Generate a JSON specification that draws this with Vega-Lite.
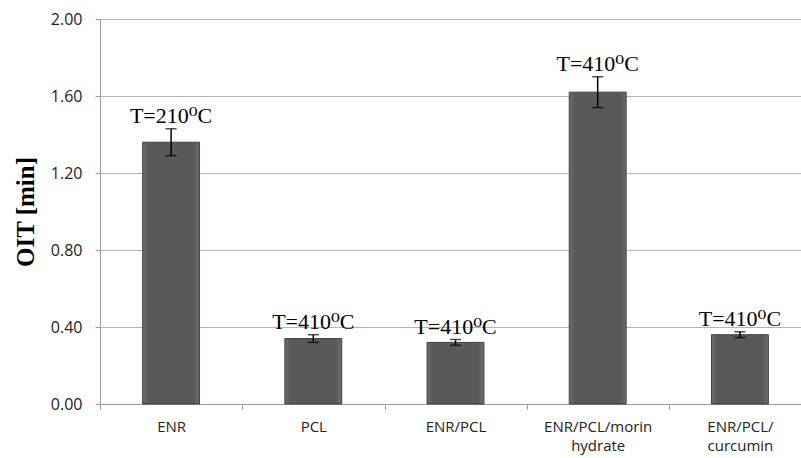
{
  "$schema": "https://vega.github.io/schema/vega-lite/v6.json",
  "width": 697,
  "height": 385,
  "autosize": {"type": "none"},
  "padding": {"left": 100, "top": 19, "right": 4, "bottom": 54},
  "background": "white",
  "config": {"view": {"stroke": null}},
  "data": {
    "values": [
      {"sample": "ENR", "oit": 1.36, "lo": 1.29, "hi": 1.43, "label": "T=210⁰C"},
      {"sample": "PCL", "oit": 0.34, "lo": 0.32, "hi": 0.36, "label": "T=410⁰C"},
      {"sample": "ENR/PCL", "oit": 0.32, "lo": 0.305, "hi": 0.335, "label": "T=410⁰C"},
      {"sample": "ENR/PCL/morin hydrate", "oit": 1.62, "lo": 1.54, "hi": 1.70, "label": "T=410⁰C"},
      {"sample": "ENR/PCL/curcumin", "oit": 0.36, "lo": 0.345, "hi": 0.375, "label": "T=410⁰C"}
    ]
  },
  "encoding": {
    "x": {
      "field": "sample",
      "type": "nominal",
      "sort": null,
      "scale": {"paddingInner": 0, "paddingOuter": 0, "range": [0, 711]},
      "axis": {
        "title": null,
        "labelAngle": 0,
        "labelFont": "Open Sans",
        "labelFontSize": 15,
        "labelColor": "#222222",
        "labelPadding": 10,
        "labelLineHeight": 19,
        "labelBaseline": "top",
        "labelAlign": "center",
        "tickOffset": -71,
        "labelOffset": 71,
        "tickSize": 5,
        "tickColor": "#999999",
        "domainColor": "#999999",
        "labelExpr": "datum.label == 'ENR/PCL/morin hydrate' ? ['ENR/PCL/morin', 'hydrate'] : datum.label == 'ENR/PCL/curcumin' ? ['ENR/PCL/', 'curcumin'] : datum.label"
      }
    }
  },
  "layer": [
    {
      "mark": {
        "type": "bar",
        "width": {"band": 0.4},
        "stroke": "#3f3f3f",
        "strokeWidth": 1,
        "fill": {
          "gradient": "linear",
          "x1": 0, "x2": 1, "y1": 0, "y2": 0,
          "stops": [
            {"offset": 0, "color": "#6f6f6f"},
            {"offset": 0.1, "color": "#595959"},
            {"offset": 0.9, "color": "#595959"},
            {"offset": 1, "color": "#6f6f6f"}
          ]
        }
      },
      "encoding": {
        "y": {
          "field": "oit",
          "type": "quantitative",
          "scale": {"domain": [0, 2], "nice": false},
          "axis": {
            "title": "OIT [min]",
            "titleFont": "Liberation Serif",
            "titleFontSize": 25,
            "titleFontWeight": "bold",
            "titleColor": "#000000",
            "titlePadding": 12,
            "values": [0, 0.4, 0.8, 1.2, 1.6, 2.0],
            "format": ".2f",
            "labelFont": "Open Sans",
            "labelFontSize": 16,
            "labelColor": "#222222",
            "labelPadding": 13,
            "tickSize": 5,
            "tickColor": "#999999",
            "domainColor": "#999999",
            "gridColor": "#b3b3b3",
            "gridWidth": 1
          }
        }
      }
    },
    {
      "mark": {"type": "rule", "color": "#000000", "strokeWidth": 1.5},
      "encoding": {
        "y": {"field": "lo", "type": "quantitative"},
        "y2": {"field": "hi"}
      }
    },
    {
      "mark": {"type": "tick", "color": "#000000", "size": 11, "thickness": 1.5},
      "encoding": {"y": {"field": "lo", "type": "quantitative"}}
    },
    {
      "mark": {"type": "tick", "color": "#000000", "size": 11, "thickness": 1.5},
      "encoding": {"y": {"field": "hi", "type": "quantitative"}}
    },
    {
      "mark": {
        "type": "text",
        "font": "Liberation Serif, DejaVu Serif",
        "fontSize": 22,
        "color": "#000000",
        "baseline": "alphabetic",
        "dy": -6
      },
      "encoding": {
        "y": {"field": "hi", "type": "quantitative"},
        "text": {"field": "label"}
      }
    }
  ]
}
